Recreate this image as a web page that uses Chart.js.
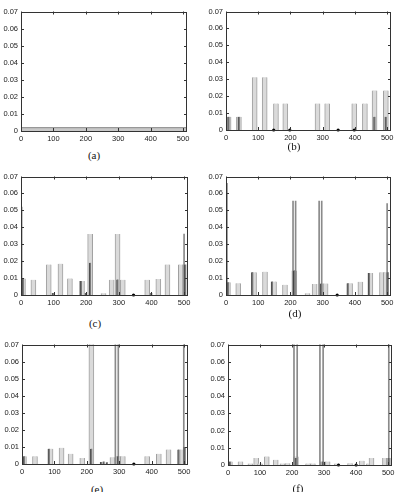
<!DOCTYPE html>
<html>
<head>
<meta charset="utf-8">
<script src="https://cdn.jsdelivr.net/npm/chart.js@4.4.0/dist/chart.umd.min.js"></script>
<style>
  body { margin: 0; background: #fff; width: 398px; height: 492px; overflow: hidden; position: relative; }
  canvas { position: absolute; }
  .cap { position: absolute; transform: translate(-50%, -50%); font-family: "Liberation Serif", serif; font-size: 11px; color: #111; opacity: 0.99; }
</style>
</head>
<body>
<canvas id="pa" width="193" height="141" style="left:0px;top:4px"></canvas>
<canvas id="pb" width="192" height="140" style="left:205px;top:4px"></canvas>
<canvas id="pc" width="194" height="140" style="left:0px;top:169px"></canvas>
<canvas id="pd" width="192" height="140" style="left:205px;top:169px"></canvas>
<canvas id="pe" width="193" height="141" style="left:1px;top:337px"></canvas>
<canvas id="pf" width="191" height="142" style="left:207px;top:337px"></canvas>
<div class="cap" style="left:94px;top:155px">(a)</div>
<div class="cap" style="left:294px;top:146px">(b)</div>
<div class="cap" style="left:95px;top:323px">(c)</div>
<div class="cap" style="left:295px;top:313px">(d)</div>
<div class="cap" style="left:97px;top:489px">(e)</div>
<div class="cap" style="left:298px;top:488px">(f)</div>
<script>
// axis ticks shared by all panels
const xTicks = [0, 100, 200, 300, 400, 500];
const yTicks = [0, 0.01, 0.02, 0.03, 0.04, 0.05, 0.06, 0.07];
const xMax = 512;

// (a) flat distribution
const aBandX = [0, 512];
const aBandY = [0.00195, 0.00195];

// (b)
const bLightX = [8, 40, 89, 120, 155, 184, 284, 314, 398, 431, 461, 496];
const bLightY = [0.0078, 0.0078, 0.0312, 0.0312, 0.0156, 0.0156, 0.0156, 0.0156, 0.0156, 0.0156, 0.0234, 0.0234];
const bDarkX = [8, 40, 461, 496];
const bDarkY = [0.0078, 0.0078, 0.0078, 0.0078];
const bLineX = [];
const bLineY = [];
const bDotX = [148, 198, 348, 398];

// (c)
const cLightX = [6, 38, 85, 121, 150, 187, 212, 253, 278, 296, 312, 387, 421, 449, 490, 503];
const cLightY = [0.0098, 0.009, 0.018, 0.0185, 0.0098, 0.0082, 0.036, 0.001, 0.009, 0.036, 0.009, 0.009, 0.0095, 0.018, 0.018, 0.018];
const cDarkX = [6, 98, 184, 199, 212, 296, 400, 503];
const cDarkY = [0.0098, 0.0012, 0.0082, 0.0012, 0.019, 0.0092, 0.0012, 0.018];
const cLineX = [2, 500];
const cLineY = [0.052, 0.036];
const cDotX = [345];

// (d)
const dLightX = [6, 38, 87, 121, 149, 183, 212, 253, 275, 296, 309, 385, 417, 448, 484, 496];
const dLightY = [0.0075, 0.007, 0.0135, 0.0138, 0.008, 0.006, 0.0145, 0.001, 0.0065, 0.0068, 0.0068, 0.007, 0.0078, 0.013, 0.0135, 0.0135];
const dDarkX = [6, 82, 143, 212, 296, 378, 444, 502];
const dDarkY = [0.0075, 0.0135, 0.008, 0.0145, 0.0068, 0.007, 0.013, 0.0135];
const dLineX = [3, 208, 216, 289, 297, 500];
const dLineY = [0.066, 0.0555, 0.0555, 0.0555, 0.0555, 0.054];
const dDotX = [345];

// (e)
const eLightX = [6, 40, 88, 122, 150, 186, 214, 279, 296, 311, 386, 422, 452, 494];
const eLightY = [0.0046, 0.0045, 0.009, 0.0095, 0.006, 0.0035, 0.08, 0.004, 0.0045, 0.0045, 0.0045, 0.006, 0.0085, 0.0085];
const eDarkX = [6, 83, 214, 244, 252, 262, 296, 483, 502];
const eDarkY = [0.0046, 0.009, 0.009, 0.0012, 0.0015, 0.001, 0.0045, 0.0085, 0.01];
const eLineX = [288, 297, 499];
const eLineY = [0.08, 0.08, 0.08];
const eDotX = [345];

// (f)
const fLightX = [6, 39, 70, 88, 100, 121, 149, 170, 186, 212, 250, 265, 296, 311, 340, 381, 418, 440, 448, 490, 502];
const fLightY = [0.002, 0.002, 0.0008, 0.004, 0.0008, 0.005, 0.003, 0.0008, 0.001, 0.005, 0.0008, 0.0008, 0.002, 0.002, 0.0008, 0.001, 0.0025, 0.0008, 0.004, 0.004, 0.004];
const fDarkX = [6, 212, 296, 502];
const fDarkY = [0.002, 0.004, 0.002, 0.004];
const fLineX = [206, 216, 287, 297, 502];
const fLineY = [0.08, 0.08, 0.08, 0.08, 0.08];
const fDotX = [345, 400];

const pts = (xs, ys) => xs.map((x, i) => ({ x: x, y: ys[i] }));

// box frame with inward ticks on all four sides
const boxTicks = {
  id: 'boxTicks',
  afterDatasetsDraw(chart) {
    const ctx = chart.ctx;
    const a = chart.chartArea;
    const sx = chart.scales.x, sy = chart.scales.y;
    ctx.save();
    ctx.strokeStyle = '#333';
    ctx.lineWidth = 1;
    ctx.strokeRect(Math.round(a.left) + 0.5, Math.round(a.top) + 0.5,
      Math.round(a.right - a.left) - 1, Math.round(a.bottom - a.top) - 1);
    ctx.beginPath();
    xTicks.forEach(v => {
      const px = Math.round(sx.getPixelForValue(v)) + 0.5;
      ctx.moveTo(px, a.bottom); ctx.lineTo(px, a.bottom - 3);
      ctx.moveTo(px, a.top); ctx.lineTo(px, a.top + 3);
    });
    yTicks.forEach(v => {
      const py = Math.round(sy.getPixelForValue(v)) + 0.5;
      ctx.moveTo(a.left, py); ctx.lineTo(a.left + 3, py);
      ctx.moveTo(a.right, py); ctx.lineTo(a.right - 3, py);
    });
    ctx.stroke();
    ctx.restore();
  }
};

function makePanel(id, light, dark, lines, dots, band) {
  const datasets = [];
  if (band) {
    datasets.push({ type: 'line', data: band, borderColor: '#888', borderWidth: 1,
      backgroundColor: '#c8c8c8', fill: 'origin', pointRadius: 0, order: 4 });
  }
  if (light) {
    datasets.push({ data: light, backgroundColor: '#dadada', borderColor: '#a0a0a0',
      borderWidth: { left: 1, right: 1, top: 0, bottom: 0 }, barThickness: 5, grouped: false, order: 3 });
  }
  if (lines) {
    datasets.push({ data: lines, backgroundColor: '#8a8a8a', barThickness: 1, grouped: false, order: 2 });
  }
  if (dark) {
    datasets.push({ data: dark, backgroundColor: '#7a7a7a', borderColor: '#444',
      borderWidth: { left: 1, right: 0, top: 0, bottom: 0 }, barThickness: 2, grouped: false, order: 1 });
  }
  if (dots && dots.length) {
    datasets.push({ type: 'line', data: dots.map(x => ({ x: x, y: 0 })), showLine: false,
      pointRadius: 1.6, pointBackgroundColor: '#000', pointBorderWidth: 0, clip: false, order: 0 });
  }
  new Chart(document.getElementById(id), {
    type: 'bar',
    data: { datasets: datasets },
    options: {
      responsive: false,
      devicePixelRatio: 1,
      animation: false,
      layout: { padding: { top: 5, right: 6, left: 0, bottom: 0 } },
      plugins: { legend: { display: false }, tooltip: { enabled: false } },
      scales: {
        x: {
          type: 'linear', min: 0, max: xMax, offset: false,
          grid: { display: false, drawTicks: false, offset: false }, border: { display: false },
          afterBuildTicks: s => { s.ticks = xTicks.map(v => ({ value: v })); },
          afterFit: s => { s.height = 14; },
          ticks: { padding: 3, maxRotation: 0, autoSkip: false, color: '#222',
            font: { family: 'Liberation Sans', size: 7.5 } }
        },
        y: {
          min: 0, max: 0.07,
          grid: { display: false, drawTicks: false }, border: { display: false },
          afterBuildTicks: s => { s.ticks = yTicks.map(v => ({ value: v })); },
          afterFit: s => { s.width = 21; },
          ticks: { padding: 3, color: '#222', font: { family: 'Liberation Sans', size: 7.5 },
            callback: v => String(v) }
        }
      }
    },
    plugins: [boxTicks]
  });
}

makePanel('pa', null, null, null, [], pts(aBandX, aBandY));
makePanel('pb', pts(bLightX, bLightY), pts(bDarkX, bDarkY), pts(bLineX, bLineY), bDotX);
makePanel('pc', pts(cLightX, cLightY), pts(cDarkX, cDarkY), pts(cLineX, cLineY), cDotX);
makePanel('pd', pts(dLightX, dLightY), pts(dDarkX, dDarkY), pts(dLineX, dLineY), dDotX);
makePanel('pe', pts(eLightX, eLightY), pts(eDarkX, eDarkY), pts(eLineX, eLineY), eDotX);
makePanel('pf', pts(fLightX, fLightY), pts(fDarkX, fDarkY), pts(fLineX, fLineY), fDotX);
</script>
</body>
</html>
